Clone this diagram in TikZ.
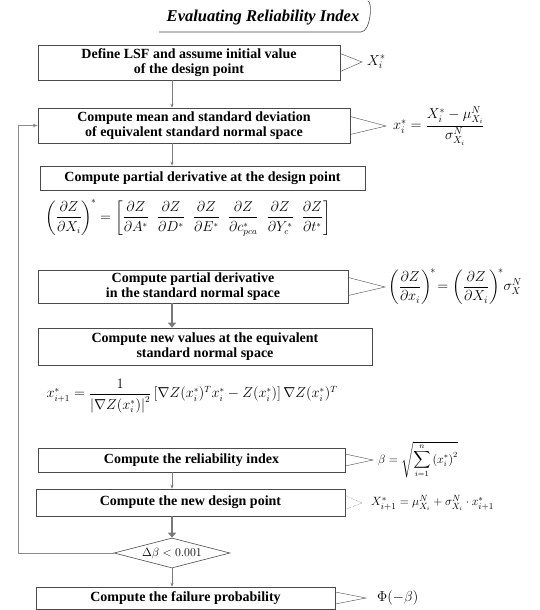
\documentclass[tikz,border=0pt]{standalone}
\usepackage{fontspec}
\setmainfont{Liberation Serif}
\usepackage{amsmath}
\usetikzlibrary{positioning, arrows.meta, shapes.geometric}
\definecolor{boxGrey}{HTML}{4A4A4A}
\definecolor{loopGrey}{HTML}{8C8C8C}
\definecolor{arrowGrey}{HTML}{7A7A7A}

\tikzset{
  stepbox/.style={draw=boxGrey, semithick, align=center,
    font=\fontsize{14}{15}\selectfont\bfseries, inner sep=2pt},
  callout/.style={draw=boxGrey, thin},
  formula/.style={anchor=west, font=\fontsize{14}{16}\selectfont, inner sep=1pt},
  flowarrow/.style={draw=arrowGrey, line width=2.2pt, -{Triangle[width=8pt,length=5pt]}},
  thinarrow/.style={draw=arrowGrey, thin, -{Stealth[length=4pt]}}
}

\begin{document}
\begin{tikzpicture}[x=1pt, y=-1pt]
  \useasboundingbox (0,0) rectangle (540,610);

  % title
  \node[font=\fontsize{16.5}{18}\selectfont\bfseries\itshape] (title) at (263,18)
    {Evaluating Reliability Index};
  \draw[boxGrey, semithick] ([xshift=-4pt,yshift=-3pt]title.south west)
    -- ([xshift=-2pt,yshift=-3pt]title.south east)
    .. controls ([xshift=8pt,yshift=-3pt]title.south east) and ([xshift=10pt,yshift=6pt]title.north east) .. ([xshift=5pt,yshift=6pt]title.north east);

  % steps
  \node[stepbox, minimum width=302pt, minimum height=35pt] (define) at (189,62.5)
    {Define LSF and assume initial value\\of the design point};
  \node[stepbox, minimum width=312pt, minimum height=35pt] (mean) at (194,125.5)
    {Compute mean and standard deviation\\of equivalent standard normal space};
  \node[stepbox, minimum width=325pt, minimum height=24pt] (partial) at (202.5,178)
    {Compute partial derivative at the design point};
  \node[stepbox, minimum width=310pt, minimum height=33pt] (partialstd) at (193,286.5)
    {Compute partial derivative\\in the standard normal space};
  \node[stepbox, minimum width=334pt, minimum height=37pt] (newval) at (205,346.5)
    {Compute new values at the equivalent\\standard normal space};
  \node[stepbox, minimum width=307pt, minimum height=24pt] (relindex) at (191.5,460)
    {Compute the reliability index};
  \node[stepbox, minimum width=309pt, minimum height=27pt] (newpoint) at (190.5,502.5)
    {Compute the new design point};
  \node[stepbox, diamond, aspect=4, inner sep=1pt, minimum width=116pt, minimum height=30pt,
        font=\fontsize{13}{14}\selectfont] (check) at (172,553) {$\Delta\beta < 0.001$};
  \node[stepbox, minimum width=299pt, minimum height=22pt] (failprob) at (185.5,598)
    {Compute the failure probability};

  % formulas under the steps
  \node[font=\fontsize{13.5}{15}\selectfont] (gradX) at (188,218)
    {$\left(\dfrac{\partial Z}{\partial X_i}\right)^{\!*}=\left[\dfrac{\partial Z}{\partial A^{*}}\;\;
      \dfrac{\partial Z}{\partial D^{*}}\;\;\dfrac{\partial Z}{\partial E^{*}}\;\;
      \dfrac{\partial Z}{\partial c^{*}_{pca}}\;\;\dfrac{\partial Z}{\partial Y_c^{*}}\;\;
      \dfrac{\partial Z}{\partial t^{*}}\right]$};
  \node[font=\fontsize{13.5}{15}\selectfont] (update) at (192,396)
    {$x_{i+1}^{*}=\dfrac{1}{\left|\nabla Z(x_i^{*})\right|^{2}}
      \left[\nabla Z(x_i^{*})^{T}x_i^{*}-Z(x_i^{*})\right]\nabla Z(x_i^{*})^{T}$};

  % callouts
  \coordinate (tipA) at (362,62);
  \coordinate (tipB) at (386,126);
  \coordinate (tipC) at (385,287);
  \coordinate (tipD) at (373,460);
  \coordinate (tipE) at (362,503);
  \coordinate (tipF) at (366,598);
  \draw[callout] ([yshift=-9pt]define.east) -- (tipA) -- ([yshift=9pt]define.east);
  \draw[callout] ([yshift=-9pt]mean.east) -- (tipB) -- ([yshift=9pt]mean.east);
  \draw[callout] ([yshift=-9pt]partialstd.east) -- (tipC) -- ([yshift=9pt]partialstd.east);
  \draw[callout] ([yshift=-6pt]relindex.east) -- (tipD) -- ([yshift=6pt]relindex.east);
  \draw[callout, densely dotted] ([yshift=-7pt]newpoint.east) -- (tipE) -- ([yshift=7pt]newpoint.east);
  \draw[callout] ([yshift=-6pt]failprob.east) -- (tipF) -- ([yshift=6pt]failprob.east);

  \node[formula, right=4pt of tipA] (fA) {$X_i^{*}$};
  \node[formula, right=6pt of tipB] (fB)
    {$x_i^{*}=\dfrac{X_i^{*}-\mu_{X_i}^{N}}{\sigma_{X_i}^{N}}$};
  \node[formula, right=2pt of tipC] (fC)
    {$\left(\dfrac{\partial Z}{\partial x_i}\right)^{\!*}\!=\left(\dfrac{\partial Z}{\partial X_i}\right)^{\!*}\!\sigma_{X}^{N}$};
  \node[formula, right=4pt of tipD, font=\fontsize{12}{14}\selectfont] (fD)
    {$\beta=\sqrt{\displaystyle\sum_{i=1}^{n}\left(x_i^{*}\right)^{2}}$};
  \node[formula, right=8pt of tipE, font=\fontsize{13}{15}\selectfont] (fE)
    {$X_{i+1}^{*}=\mu_{X_i}^{N}+\sigma_{X_i}^{N}\cdot x_{i+1}^{*}$};
  \node[formula, right=10pt of tipF] (fF) {$\Phi(-\beta)$};

  % flow
  \draw[thinarrow] (define.south -| check) -- (mean.north -| check);
  \draw[thinarrow] (mean.south -| check) -- (partial.north -| check);
  \draw[flowarrow] (partialstd.south -| check) -- (newval.north -| check);
  \draw[thinarrow] (relindex.south -| check) -- (newpoint.north -| check);
  \draw[flowarrow] (newpoint.south -| check) -- (check.north);
  \draw[thinarrow] (check.south) -- (failprob.north -| check);

  % loop back when not converged
  \draw[loopGrey, thick, -{Stealth[length=5pt]}] (check.west) -- (18,553) -- (18,125.5) -- (mean.west);
\end{tikzpicture}
\end{document}
